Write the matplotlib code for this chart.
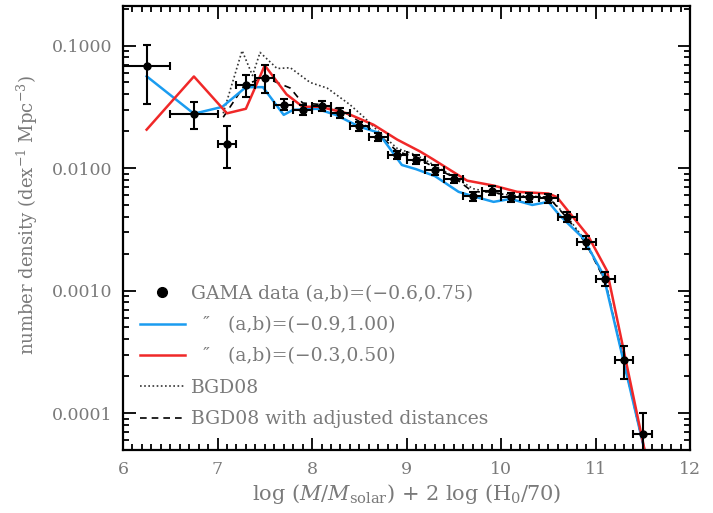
import matplotlib
matplotlib.use("Agg")
import matplotlib.pyplot as plt
from matplotlib.lines import Line2D
from matplotlib.ticker import MultipleLocator, LogLocator, NullFormatter, FixedLocator

plt.rcParams['font.family'] = ['DejaVu Serif']
plt.rcParams['mathtext.fontset'] = 'dejavuserif'

# GAMA data points
gama_x = [6.25, 6.75, 7.1, 7.3, 7.5, 7.7, 7.9, 8.1, 8.3, 8.5, 8.7, 8.9, 9.1,
          9.3, 9.5, 9.7, 9.9, 10.1, 10.3, 10.5, 10.7, 10.9, 11.1, 11.3, 11.5]
gama_y = [0.068, 0.0278, 0.0156, 0.0476, 0.0542, 0.033, 0.030, 0.032, 0.028,
          0.022, 0.018, 0.0128, 0.0117, 0.0096, 0.0081, 0.0059, 0.0065, 0.0058,
          0.0058, 0.0057, 0.0040, 0.0025, 0.00125, 0.00027, 6.8e-5]
gama_ylo = [0.0334, 0.021, 0.0100, 0.038, 0.041, 0.030, 0.027, 0.029, 0.0255,
            0.020, 0.0165, 0.0118, 0.0107, 0.0088, 0.0075, 0.0054, 0.0060, 0.0053,
            0.0053, 0.0052, 0.0036, 0.0022, 0.00108, 0.000188, 4.0e-5]
gama_yhi = [0.102, 0.0347, 0.0222, 0.0573, 0.069, 0.037, 0.033, 0.035, 0.031,
            0.024, 0.0195, 0.0139, 0.0128, 0.0105, 0.0088, 0.0064, 0.0071, 0.0063,
            0.0063, 0.0062, 0.0044, 0.0028, 0.00143, 0.00035, 0.0001]
gama_xerr = [0.25, 0.25, 0.1, 0.1, 0.1, 0.1, 0.1, 0.1, 0.1, 0.1, 0.1, 0.1, 0.1,
             0.1, 0.1, 0.1, 0.1, 0.1, 0.1, 0.1, 0.1, 0.1, 0.1, 0.1, 0.1]

# (a,b)=(-0.9,1.00)
blue_x = [6.25, 6.75, 7.05, 7.3, 7.48, 7.7, 7.8, 8.05, 8.25, 8.5, 8.7, 8.95,
          9.1, 9.3, 9.55, 9.7, 9.92, 10.1, 10.33, 10.5, 10.62, 10.87, 11.08, 11.53]
blue_y = [0.0562, 0.0278, 0.0316, 0.0458, 0.0458, 0.0272, 0.0299, 0.0305, 0.0272,
          0.0218, 0.0195, 0.0106, 0.0098, 0.0086, 0.0064, 0.0059, 0.0053, 0.0056,
          0.0050, 0.0053, 0.0041, 0.00267, 0.00135, 4.5e-5]

# (a,b)=(-0.3,0.50)
red_x = [6.25, 6.75, 7.1, 7.3, 7.5, 7.73, 7.9, 8.08, 8.37, 8.65, 8.9, 9.14,
         9.28, 9.64, 9.92, 10.17, 10.5, 10.59, 10.92, 11.12, 11.53]
red_y = [0.0206, 0.056, 0.028, 0.0305, 0.069, 0.040, 0.0317, 0.0317, 0.028,
         0.0226, 0.0171, 0.0137, 0.0118, 0.0079, 0.0072, 0.0064, 0.0062, 0.0058,
         0.0028, 0.00145, 4.5e-5]

# BGD08
bgd_x = [7.06, 7.26, 7.37, 7.45, 7.63, 7.77, 7.98, 8.16, 8.4, 8.55, 8.7, 8.9,
         9.1, 9.3, 9.5, 9.7, 9.9, 10.1, 10.3, 10.5, 10.7, 10.9, 11.1, 11.3, 11.53]
bgd_y = [0.028, 0.091, 0.057, 0.088, 0.065, 0.066, 0.050, 0.045, 0.033, 0.026,
         0.020, 0.0145, 0.0128, 0.0105, 0.0085, 0.0068, 0.0063, 0.0060, 0.0059,
         0.0058, 0.0040, 0.0025, 0.0012, 0.00026, 4.5e-5]

# BGD08 with adjusted distances
adj_x = [7.06, 7.29, 7.5, 7.77, 7.9, 8.1, 8.3, 8.5, 8.7, 8.9, 9.1, 9.3, 9.5,
         9.7, 9.9, 10.1, 10.3, 10.5, 10.7, 10.9, 11.1, 11.3, 11.53]
adj_y = [0.026, 0.048, 0.055, 0.045, 0.034, 0.033, 0.030, 0.024, 0.019, 0.0137,
         0.0122, 0.0101, 0.0084, 0.0064, 0.0064, 0.0059, 0.0058, 0.0058, 0.0039,
         0.0024, 0.0012, 0.00026, 4.5e-5]

labels = ['GAMA data (a,b)=(\u22120.6,0.75)',
          '  \u2033   (a,b)=(\u22120.9,1.00)',
          '  \u2033   (a,b)=(\u22120.3,0.50)',
          'BGD08',
          'BGD08 with adjusted distances']

grey = '#7a7a7a'
blue = '#1a9cf0'
red = '#f02828'

fig = plt.figure(figsize=(7.13, 5.13), dpi=100)
ax = fig.add_axes([0.1725, 0.123, 0.7955, 0.865])

ax.plot(bgd_x, bgd_y, color='#333333', lw=1.2, ls=(0, (1, 1.5)))
ax.plot(adj_x, adj_y, color='black', lw=1.2, ls=(0, (4, 3)))
ax.plot(blue_x, blue_y, color=blue, lw=1.8)
ax.plot(red_x, red_y, color=red, lw=1.8)

yerr = [[y - lo for y, lo in zip(gama_y, gama_ylo)],
        [hi - y for y, hi in zip(gama_y, gama_yhi)]]
ax.errorbar(gama_x, gama_y, xerr=gama_xerr, yerr=yerr, fmt='o', color='black',
            ms=5, elinewidth=1.5, capsize=3, capthick=1.5)

ax.set_yscale('log')
ax.set_xlim(6, 12)
ax.set_ylim(5e-5, 0.21)

ax.xaxis.set_major_locator(MultipleLocator(1))
ax.xaxis.set_minor_locator(MultipleLocator(0.1))
ax.yaxis.set_major_locator(FixedLocator([1e-4, 1e-3, 1e-2, 1e-1]))
ax.yaxis.set_minor_locator(LogLocator(base=10, subs=range(2, 10)))
ax.yaxis.set_minor_formatter(NullFormatter())
ax.set_yticklabels(['0.0001', '0.0010', '0.0100', '0.1000'])

ax.tick_params(which='both', direction='in', top=True, right=True,
               colors='black', labelcolor=grey, labelsize=12.5, width=1.3)
ax.tick_params(which='major', length=9, pad=8)
ax.tick_params(which='minor', length=4.5)
for s in ax.spines.values():
    s.set_linewidth(1.6)

ax.set_xlabel(r'log ($M/M_{\rm solar}$) + 2 log (H$_0$/70)', color=grey,
              fontsize=15, labelpad=3)
ax.set_ylabel(r'number density (dex$^{-1}$ Mpc$^{-3}$)', color=grey,
              fontsize=13)
ax.yaxis.set_label_coords(-0.147, 0.53)

handles = [Line2D([], [], color='black', marker='o', ls='none', ms=7),
           Line2D([], [], color=blue, lw=1.8),
           Line2D([], [], color=red, lw=1.8),
           Line2D([], [], color='#333333', lw=1.2, ls=(0, (1, 1.5))),
           Line2D([], [], color='black', lw=1.2, ls=(0, (4, 3)))]
ax.legend(handles, labels, loc='lower left', bbox_to_anchor=(0.0, 0.011),
          frameon=False, fontsize=13.5, labelcolor=grey, handlelength=2.4,
          handletextpad=0.35, labelspacing=0.71)

fig.savefig('out.png', dpi=100)
